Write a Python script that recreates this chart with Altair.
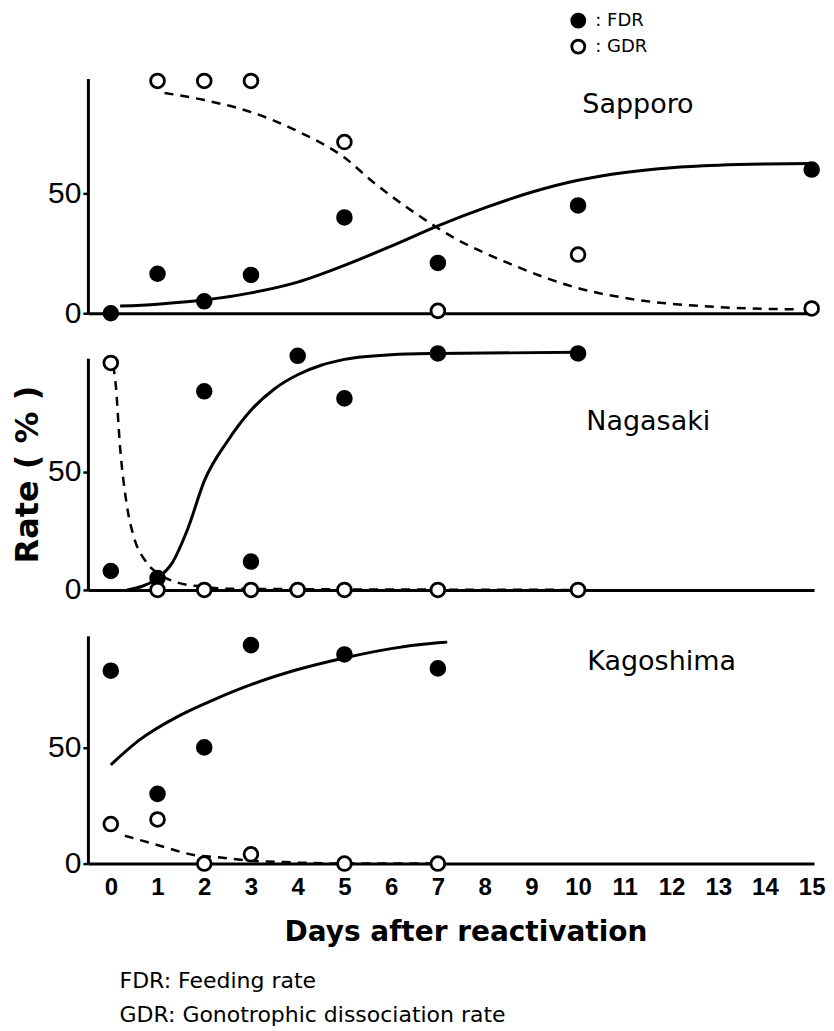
import altair as alt
import pandas as pd

FONT = "DejaVu Sans"
NUMFONT = "Liberation Sans"

# ---------------- data ----------------
# Sapporo
sap_fdr_days = [0, 1, 2, 3, 5, 7, 10, 15]
sap_fdr_vals = [0, 16.5, 5, 16, 40, 21, 45, 60]
sap_gdr_days = [1, 2, 3, 5, 7, 10, 15]
sap_gdr_vals = [97, 97, 97, 71.5, 1, 24.5, 2]
sap_fdr_curve_x = [0.2, 1, 2, 3, 4, 5, 6, 7, 8, 9, 10, 11, 12, 13, 14, 15]
sap_fdr_curve_y = [3, 3.8, 5.5, 8.5, 13, 20, 28, 36.5, 44, 50.5, 55.5, 58.8, 60.8, 61.8, 62.3, 62.5]
sap_gdr_curve_x = [1.15, 2, 3, 4, 5, 5.6, 6.5, 7.3, 8.5, 10, 11.3, 13, 14.7]
sap_gdr_curve_y = [92, 89, 84, 76, 65, 55, 42, 32, 21, 10.5, 5.5, 2.6, 1.6]

# Nagasaki
nag_fdr_days = [0, 1, 2, 3, 4, 5, 7, 10]
nag_fdr_vals = [8, 5, 84, 12, 99, 81, 100, 100]
nag_gdr_days = [0, 1, 2, 3, 4, 5, 7, 10]
nag_gdr_vals = [96, 0, 0, 0, 0, 0, 0, 0]
nag_fdr_curve_x = [0.35, 1, 1.3, 1.65, 2, 2.5, 3, 3.5, 4, 4.5, 5, 6, 7, 10]
nag_fdr_curve_y = [0, 5, 11, 26, 46, 63, 76, 85, 91, 95, 97.5, 99.5, 100, 100.5]
nag_gdr_curve_x = [0.05, 0.1, 0.2, 0.35, 0.5, 0.75, 1.05, 1.45, 1.9, 2.5, 10]
nag_gdr_curve_y = [95, 88, 60, 35, 22, 12, 6.5, 3, 1.5, 0.5, 0]

# Kagoshima
kag_fdr_days = [0, 1, 2, 3, 5, 7]
kag_fdr_vals = [83, 30, 50, 94, 90, 84]
kag_gdr_days = [0, 1, 2, 3, 5, 7]
kag_gdr_vals = [17, 19, 0, 4, 0, 0]
kag_fdr_curve_x = [0, 0.6, 1.5, 2.2, 3, 4, 5, 6, 7, 7.2]
kag_fdr_curve_y = [42.5, 53, 64, 70.5, 77, 83.5, 88.5, 92.5, 95, 95.3]
kag_gdr_curve_x = [0.3, 1.05, 1.75, 2.4, 3, 4, 5, 7]
kag_gdr_curve_y = [12, 7.7, 3.8, 2.5, 1.2, 0.5, 0, 0]

x_ticks = list(range(0, 16))
y_ticks = [0, 50]
series = ["FDR", "GDR"]
footnotes = ["FDR: Feeding rate", "GDR: Gonotrophic dissociation rate"]

# ---------------- chart ----------------
xscale = alt.Scale(domain=[-0.49, 15.05], nice=False, zero=False)
yscale = alt.Scale(domain=[0, 98], nice=False, zero=False)


def panel(name, fd, fv, gd, gv, fcx, fcy, gcx, gcy, height, bottom, ytitle, ldx, ldy):
    pts = pd.DataFrame({
        "day": fd + gd,
        "rate": fv + gv,
        "series": ["FDR"] * len(fd) + ["GDR"] * len(gd),
    })
    fc = pd.DataFrame({"day": fcx, "rate": fcy})
    gc = pd.DataFrame({"day": gcx, "rate": gcy})

    if bottom:
        xaxis = alt.Axis(values=x_ticks, format="d", labelFontSize=24, labelFontWeight="bold",
                         labelFont=NUMFONT, labelColor="black", labelPadding=12, ticks=False,
                         labelFlush=False, labelOverlap=False,
                         domainWidth=3, domainColor="black", grid=False,
                         title="Days after reactivation", titleFontSize=28,
                         titleFontWeight="bold", titleFont=FONT, titleColor="black",
                         titleBaseline="alphabetic", titleY=77, titleX=378)
    else:
        xaxis = alt.Axis(labels=False, ticks=False, title=None, domainWidth=3,
                         domainColor="black", grid=False)
    yargs = dict(values=y_ticks, labelFontSize=30, labelFont=NUMFONT, labelColor="black",
                 tickSize=5, tickWidth=2.5, tickColor="black", labelPadding=2,
                 domainWidth=3, domainColor="black", grid=False, labelFlush=False)
    if ytitle:
        yaxis = alt.Axis(title=ytitle, titleFontSize=32, titleFontWeight="bold",
                         titleFont=FONT, titleColor="black", titlePadding=3, **yargs)
    else:
        yaxis = alt.Axis(title=None, **yargs)

    x = alt.X("day:Q", scale=xscale, axis=xaxis)
    y = alt.Y("rate:Q", scale=yscale, axis=yaxis)

    fl = alt.Chart(fc).mark_line(color="black", strokeWidth=3, interpolate="monotone").encode(x=x, y=y)
    gl = alt.Chart(gc).mark_line(color="black", strokeWidth=2.5, strokeDash=[9, 7],
                                 interpolate="monotone").encode(x=x, y=y)
    pt = alt.Chart(pts).mark_circle(size=190, stroke="black", strokeWidth=2.8, opacity=1).encode(
        x=x, y=y,
        fill=alt.Fill("series:N", scale=alt.Scale(domain=series, range=["black", "white"]),
                      legend=alt.Legend(orient="none", legendX=482, legendY=-67, title=None,
                                        labelExpr="': ' + datum.label", symbolType="circle",
                                        symbolSize=170, symbolStrokeWidth=2.8,
                                        symbolStrokeColor="black", labelFontSize=18,
                                        labelFont=FONT, labelColor="black", rowPadding=0,
                                        labelOffset=8, padding=0, direction="vertical")),
    )
    return alt.layer(fl, gl, pt).properties(
        width=727, height=height,
        view=alt.ViewBackground(stroke="transparent", strokeWidth=0),
        title=alt.TitleParams(name, anchor="start", frame="group", orient="top", offset=0,
                              dx=ldx, dy=ldy, baseline="middle", fontSize=27,
                              fontWeight="normal", font=FONT, color="black"),
    )


p1 = panel("Sapporo", sap_fdr_days, sap_fdr_vals, sap_gdr_days, sap_gdr_vals,
           sap_fdr_curve_x, sap_fdr_curve_y, sap_gdr_curve_x, sap_gdr_curve_y,
           235, False, None, 495, 64)
p2 = panel("Nagasaki", nag_fdr_days, nag_fdr_vals, nag_gdr_days, nag_gdr_vals,
           nag_fdr_curve_x, nag_fdr_curve_y, nag_gdr_curve_x, nag_gdr_curve_y,
           232, False, "Rate ( % )", 499, 108)
p3 = panel("Kagoshima", kag_fdr_days, kag_fdr_vals, kag_gdr_days, kag_gdr_vals,
           kag_fdr_curve_x, kag_fdr_curve_y, kag_gdr_curve_x, kag_gdr_curve_y,
           228, True, None, 500, 56)

lower = alt.vconcat(p2, p3, spacing=46, bounds="flush")
chart = alt.vconcat(p1, lower, spacing=45, bounds="flush").properties(
    padding={"left": 3, "top": 3, "right": 0, "bottom": 0},
    title=alt.TitleParams(footnotes, orient="bottom", anchor="start", fontSize=22,
                          fontWeight="normal", font=FONT, color="black", lineHeight=34,
                          offset=25, dx=108),
).configure_view(stroke="transparent", strokeWidth=0).configure(font=FONT)

chart.save("out.html", embed_options={"renderer": "svg", "actions": False})
